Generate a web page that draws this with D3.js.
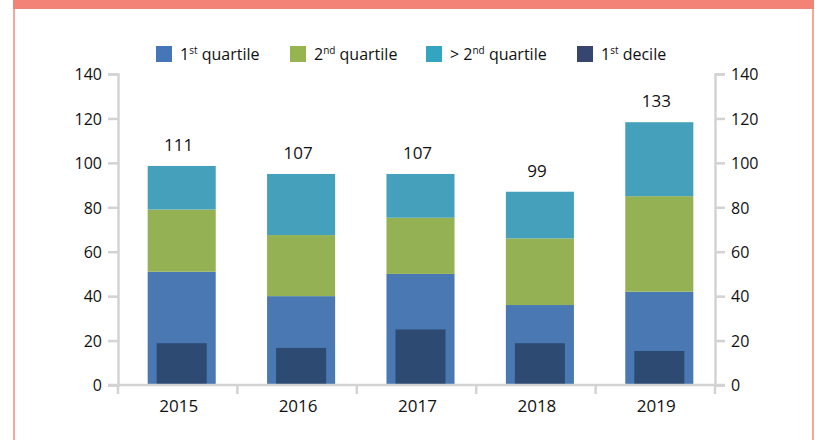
<!DOCTYPE html>
<html>
<head>
<meta charset="utf-8">
<script src="https://cdn.jsdelivr.net/npm/d3@7"></script>
<style>
  body { margin: 0; background: #fff; }
  text { font-family: "Open Sans", "Liberation Sans", Arial, sans-serif; fill: #111; }
</style>
</head>
<body>
<div id="chart"></div>
<script>
// data
var years = ["2015", "2016", "2017", "2018", "2019"];
var q1 = [51, 40, 50, 36, 42];
var q2 = [28, 27.5, 25.3, 30, 43];
var aboveQ2 = [19.6, 27.5, 19.7, 21, 33.3];
var decile1 = [18.8, 16.7, 25, 18.8, 15.3];
var totalLabels = ["111", "107", "107", "99", "133"];
var yTicks = [0, 20, 40, 60, 80, 100, 120, 140];

var seriesKeys = ["q1", "q2", "aboveQ2"];
var colors = {q1: "#4a78b2", q2: "#94b254", aboveQ2: "#45a0bc", decile1: "#2c4a72"};

var width = 815, height = 440;

var rows = years.map(function(y, i) {
    return {year: y, q1: q1[i], q2: q2[i], aboveQ2: aboveQ2[i], decile1: decile1[i], label: totalLabels[i]};
});

var svg = d3.select("#chart").append("svg")
    .attr("width", width)
    .attr("height", height);

// frame
svg.append("rect").attr("x", 13).attr("y", 0).attr("width", 801).attr("height", 9).attr("fill", "#f28376");
svg.append("rect").attr("x", 13).attr("y", 9).attr("width", 2).attr("height", height).attr("fill", "#f6a79b");
svg.append("rect").attr("x", 812).attr("y", 9).attr("width", 2).attr("height", height).attr("fill", "#f6a79b");

var xScale = d3.scaleBand()
    .domain(years)
    .range([118, 715])
    .paddingInner(0.43)
    .paddingOuter(0.215);
var yScale = d3.scaleLinear()
    .domain([0, 140])
    .range([385, 74]);

var axisColor = "#d3d3d3";

// left & right y axes
var yAxisL = d3.axisLeft(yScale).tickValues(yTicks).tickSize(10).tickPadding(6);
var yAxisR = d3.axisRight(yScale).tickValues(yTicks).tickSize(10).tickPadding(6);

var gL = svg.append("g").attr("transform", "translate(118,0)").call(yAxisL);
var gR = svg.append("g").attr("transform", "translate(715,0)").call(yAxisR);
[gL, gR].forEach(function(g) {
    g.select(".domain").attr("stroke", axisColor).attr("stroke-width", 2.5);
    g.selectAll(".tick line").attr("stroke", axisColor).attr("stroke-width", 2.5);
    g.selectAll(".tick text").style("font-size", "16px").attr("fill", "#111").attr("dy", "0.36em");
});

// stacked bars
var stack = d3.stack().keys(seriesKeys);
var layers = stack(rows);
var barShift = 4;

svg.append("g").selectAll("g")
    .data(layers)
    .enter().append("g")
    .attr("fill", function(d) { return colors[d.key]; })
    .selectAll("rect")
    .data(function(d) { return d; })
    .enter().append("rect")
    .attr("x", function(d) { return xScale(d.data.year) + barShift; })
    .attr("width", xScale.bandwidth())
    .attr("y", function(d) { return yScale(d[1]); })
    .attr("height", function(d) { return yScale(d[0]) - yScale(d[1]); });

// 1st decile, narrower bar inside
var decW = 50;
svg.append("g").selectAll("rect")
    .data(rows)
    .enter().append("rect")
    .attr("x", function(d) { return xScale(d.year) + barShift + (xScale.bandwidth() - decW) / 2; })
    .attr("width", decW)
    .attr("y", function(d) { return yScale(d.decile1); })
    .attr("height", function(d) { return yScale(0) - yScale(d.decile1); })
    .attr("fill", colors.decile1);

// total labels
svg.append("g").selectAll("text")
    .data(rows)
    .enter().append("text")
    .attr("x", function(d) { return xScale(d.year) + barShift + xScale.bandwidth() / 2 - 3; })
    .attr("y", function(d) { return yScale(d.q1 + d.q2 + d.aboveQ2) - 15; })
    .attr("text-anchor", "middle")
    .style("font-size", "17px")
    .text(function(d) { return d.label; });

// x axis
var xg = svg.append("g");
xg.append("line")
    .attr("x1", 108).attr("x2", 725)
    .attr("y1", 385).attr("y2", 385)
    .attr("stroke", axisColor).attr("stroke-width", 2.5);
xg.selectAll(".xtick")
    .data(d3.range(years.length + 1))
    .enter().append("line")
    .attr("x1", function(i) { return 118 + i * (715 - 118) / years.length; })
    .attr("x2", function(i) { return 118 + i * (715 - 118) / years.length; })
    .attr("y1", 385).attr("y2", 394)
    .attr("stroke", axisColor).attr("stroke-width", 2.5);
xg.selectAll(".xlabel")
    .data(years)
    .enter().append("text")
    .attr("x", function(d) { return xScale(d) + xScale.bandwidth() / 2 + 1; })
    .attr("y", 412)
    .attr("text-anchor", "middle")
    .style("font-size", "17px")
    .text(function(d) { return d; });

// legend
var legendItems = [
    {key: "q1", pre: "1", sup: "st", post: " quartile", x: 156},
    {key: "q2", pre: "2", sup: "nd", post: " quartile", x: 290},
    {key: "aboveQ2", pre: "> 2", sup: "nd", post: " quartile", x: 426},
    {key: "decile1", pre: "1", sup: "st", post: " decile", x: 577}
];
var legendColors = {q1: "#4577b8", q2: "#96b44f", aboveQ2: "#34a5c1", decile1: "#37466f"};

var leg = svg.append("g").selectAll("g")
    .data(legendItems)
    .enter().append("g")
    .attr("transform", function(d) { return "translate(" + d.x + ",46)"; });
leg.append("rect")
    .attr("width", 16).attr("height", 16)
    .attr("fill", function(d) { return legendColors[d.key]; });
var lt = leg.append("text")
    .attr("x", 24)
    .attr("y", 14)
    .style("font-size", "16px");
lt.append("tspan").text(function(d) { return d.pre; });
lt.append("tspan").attr("dy", -6).style("font-size", "10px").text(function(d) { return d.sup; });
lt.append("tspan").attr("dy", 6).text(function(d) { return d.post; });
</script>
</body>
</html>
